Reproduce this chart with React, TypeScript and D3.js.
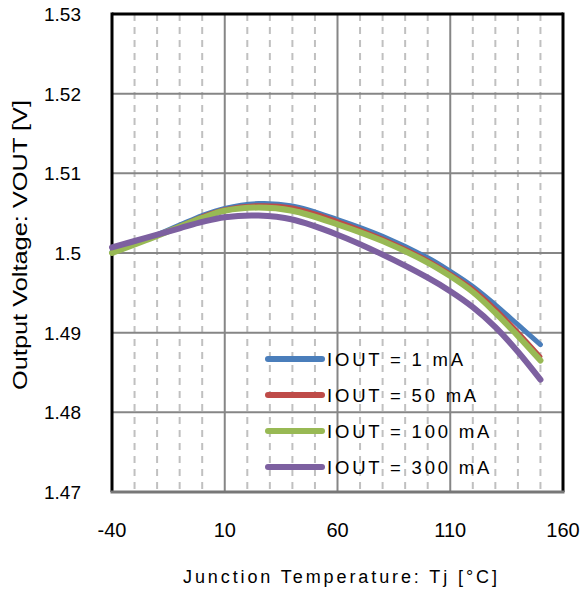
import React from "react";
import * as d3 from "d3";

const temps = [-40, -25, -10, 0, 10, 25, 40, 60, 80, 100, 110, 120, 130, 140, 150];
const iout1 = [1.5001, 1.5017, 1.5035, 1.5047, 1.5056, 1.5062, 1.5059, 1.5042, 1.5021, 1.4994, 1.4977, 1.4958, 1.4935, 1.491, 1.4885];
const iout50 = [1.5001, 1.5017, 1.5034, 1.5046, 1.5055, 1.506, 1.5057, 1.504, 1.5018, 1.4991, 1.4974, 1.4955, 1.493, 1.4901, 1.487];
const iout100 = [1.5, 1.5016, 1.5033, 1.5044, 1.5053, 1.5057, 1.5053, 1.5036, 1.5015, 1.4988, 1.4971, 1.4951, 1.4925, 1.4896, 1.4865];
const iout300 = [1.5007, 1.5019, 1.5031, 1.5039, 1.5045, 1.5047, 1.5042, 1.5023, 1.4998, 1.4969, 1.4952, 1.4932, 1.4907, 1.4876, 1.4841];

const seriesNames = ["IOUT = 1 mA", "IOUT = 50 mA", "IOUT = 100 mA", "IOUT = 300 mA"];
const seriesValues = [iout1, iout50, iout100, iout300];
const seriesColors = ["#4a7ebb", "#be4b48", "#98b954", "#7d60a0"];
const seriesWidths = [5, 4, 6, 6];

const xMajorTicks = [-40, 10, 60, 110, 160];
const xMinorTicks = d3.range(-30, 160, 10).filter((t) => (t + 40) % 50 !== 0);
const yTicks = [1.47, 1.48, 1.49, 1.5, 1.51, 1.52, 1.53];

export default function App() {
  const left = 112, right = 563, top = 14, bottom = 492;
  const x = d3.scaleLinear().domain([-40, 160]).range([left, right]);
  const y = d3.scaleLinear().domain([1.47, 1.53]).range([bottom, top]);
  const line = d3
    .line<number>()
    .x((_, i) => x(temps[i]))
    .y((d) => y(d))
    .curve(d3.curveCatmullRom.alpha(0.5));

  return (
    <svg width={588} height={590} style={{ position: "absolute", left: 0, top: 0, background: "#fff" }}>
      <rect x={0} y={0} width={588} height={590} fill="#fff" />
      {xMinorTicks.map((t) => (
        <line key={"m" + t} x1={x(t)} x2={x(t)} y1={top} y2={bottom} stroke="#c0c0c0" strokeWidth={2} strokeDasharray="7,6" />
      ))}
      {yTicks.map((v) => (
        <line key={"h" + v} x1={left} x2={right} y1={y(v)} y2={y(v)} stroke="#868686" strokeWidth={2} />
      ))}
      {xMajorTicks.map((t) => (
        <line key={"v" + t} x1={x(t)} x2={x(t)} y1={top} y2={bottom} stroke="#868686" strokeWidth={2} />
      ))}
      <line x1={left} x2={right} y1={top} y2={top} stroke="#000" strokeWidth={3} />
      <line x1={right} x2={right} y1={top - 1.5} y2={bottom} stroke="#000" strokeWidth={3} />
      <line x1={left} x2={left} y1={top - 1.5} y2={bottom} stroke="#000" strokeWidth={3} />
      <line x1={left - 1.5} x2={right + 1.5} y1={bottom} y2={bottom} stroke="#777" strokeWidth={3} />
      {seriesValues.map((vals, i) => (
        <path key={"s" + i} d={line(vals) || ""} fill="none" stroke={seriesColors[i]} strokeWidth={seriesWidths[i]} strokeLinecap="round" strokeLinejoin="round" />
      ))}
      {seriesNames.map((n, i) => (
        <g key={"l" + i} transform={`translate(268, ${359 + i * 36})`}>
          <line x1={0} x2={54} y1={0} y2={0} stroke={seriesColors[i]} strokeWidth={6} strokeLinecap="round" />
          <text x={59} y={0} dy="0.36em" fontSize={18.5} fontFamily="Liberation Sans, Arial, sans-serif" letterSpacing={2.8} fill="#000">
            {n}
          </text>
        </g>
      ))}
      {yTicks.map((v) => (
        <text key={"yt" + v} x={81} y={y(v)} dy="0.36em" textAnchor="end" fontSize={19} fontFamily="Liberation Sans, Arial, sans-serif" fill="#000">
          {d3.format("")(v)}
        </text>
      ))}
      {xMajorTicks.map((t) => (
        <text key={"xt" + t} x={x(t)} y={530} dy="0.36em" textAnchor="middle" fontSize={20} fontFamily="Liberation Sans, Arial, sans-serif" fill="#000">
          {t}
        </text>
      ))}
      <text x={340} y={577} dy="0.36em" textAnchor="middle" fontSize={18} fontFamily="Liberation Sans, Arial, sans-serif" textLength={314} lengthAdjust="spacing" fill="#000">
        Junction Temperature: Tj [°C]
      </text>
      <text transform="translate(20, 245) rotate(-90)" textAnchor="middle" dy="0.36em" fontSize={20} fontFamily="Liberation Sans, Arial, sans-serif" textLength={290} lengthAdjust="spacingAndGlyphs" fill="#000">
        Output Voltage: VOUT [V]
      </text>
    </svg>
  );
}
